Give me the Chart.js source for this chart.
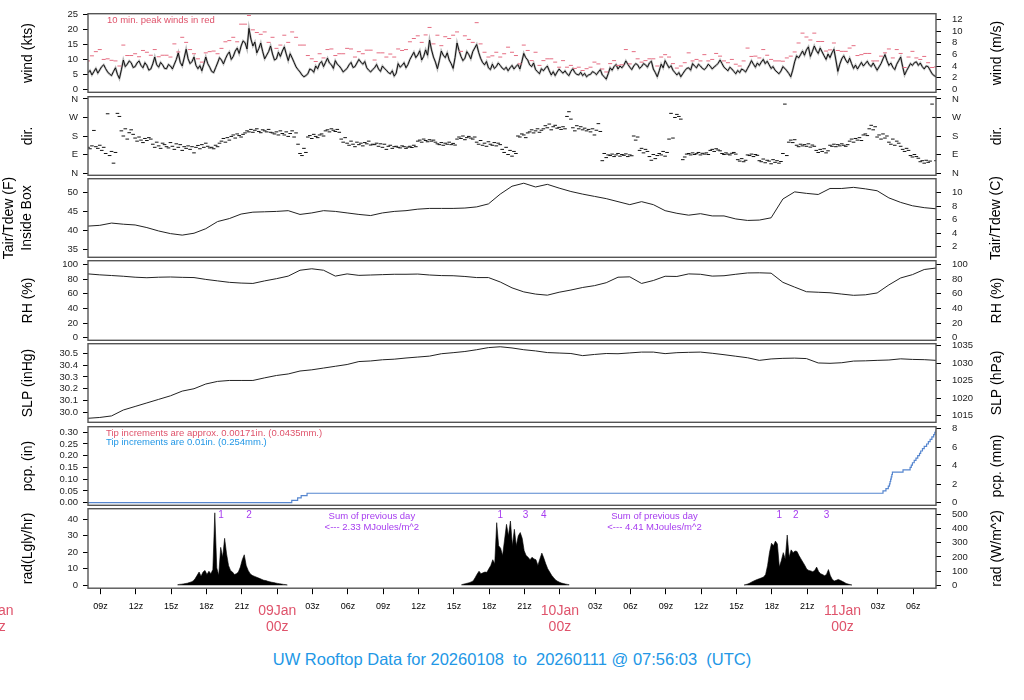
<!DOCTYPE html>
<html>
<head>
<meta charset="utf-8">
<title>UW Rooftop Data</title>
<script src="https://cdn.jsdelivr.net/npm/chart.js@4.4.1/dist/chart.umd.min.js"></script>
<style>
  body { margin: 0; background: #fff; width: 1024px; height: 700px; overflow: hidden; position: relative;
         font-family: "Liberation Sans", Arial, Helvetica, sans-serif; }
  canvas { position: absolute; left: 0; }
  #title { position: absolute; left: 0; width: 1024px; top: 650px; line-height: 19px; text-align: center;
           color: #2297E6; font-size: 16.5px; white-space: pre; }
</style>
</head>
<body>
<div id="title">UW Rooftop Data for 20260108  to  20260111 @ 07:56:03  (UTC)</div>
<script>
// time axis: hours since 2026-01-08 07:56:03 UTC, 72 h shown
var START_HOUR = 7 + 56 / 60 + 3 / 3600;
var SPAN_HOURS = 72;
var xTickLabels = ['09z','12z','15z','18z','21z','','03z','06z','09z','12z','15z','18z','21z','',
                   '03z','06z','09z','12z','15z','18z','21z','','03z','06z'];
var dateLabels = ['08Jan', '09Jan', '10Jan', '11Jan'];

// wind speed (kts) every 10 min
var windStepMin = 10;
var windKts = [
  5.5,6.3,4.8,5.9,7,5.4,6.5,7.6,8.2,6.9,5.8,5.1,4.6,6.0,7.2,5.0,3.6,6.5,9.8,7.6,
  8.4,9.5,8.9,7.3,7.6,8.8,9.5,8.0,7.2,8.9,8,6.4,6.8,8.5,10.8,8.2,7.4,9.0,8.2,7.0,
  6.9,8.3,7.8,6.8,8.4,10.0,12.2,9.0,7.8,10.5,13.4,10.2,8.6,9.3,10.8,8.0,6.9,7.9,6.2,8.4,
  10.8,8.6,7.4,6.0,5.6,7.2,8.8,10.6,9.8,8.5,10.2,11.6,12.5,10.0,11,12.8,13.8,12.0,14.5,16.2,
  15.6,13.5,20.4,16.8,14.5,15.8,12.2,13.6,15.5,12.6,10.2,11.4,12.6,14.5,11.8,9.8,10.2,12.4,11,12.8,
  14.2,11.8,9.6,11.9,10.5,9.0,7.5,6.6,5.8,4.8,4.2,4.6,5.2,6.8,6.5,5.7,7.8,6.9,8.6,9.3,
  7.6,9.0,10.4,8.8,8.2,7.0,9.6,8.4,7.8,6.9,5.8,6.4,7,8.2,9,7.3,7.6,8.8,10,9.1,
  8.4,9.3,7.2,6.4,5.8,6.6,7.2,8.3,6.8,6.0,7.8,7.0,6.4,5.6,5.2,6.2,4.4,5.4,8.6,7.4,
  8,8.9,7.2,8.3,10,11.2,12.4,10.6,11.5,12.9,9.8,11.0,13.2,11.4,16.5,13.2,10.8,9.1,6.9,9.6,
  12.8,11.4,10.6,12.2,9.8,8.6,7,10.6,15.5,13.0,11,9.6,10.4,12.6,11.6,10.2,12.6,13.8,15,12.4,
  10.4,9.0,8.2,9.3,7.2,6.6,8.4,7.0,7.6,8.8,8,7.1,6.6,7.4,6.2,7.2,8,6.8,7.6,8.3,
  6.8,9.2,12,10.6,9.8,8.2,7.6,8.8,6.6,5.9,5.2,6.9,6.2,7.1,7.8,6.2,4.8,5.9,4.6,5.8,
  6.8,6.0,5.4,6.2,5.2,4.6,6,6.9,5.6,5.0,4.8,5.7,4.6,5.3,4.2,4.8,5,5.9,5.6,4.9,
  5.8,6.6,4.8,4.2,3.4,5.2,7.2,6.4,7.6,8.3,6.8,7.8,7.2,8.1,9.5,8.4,7.4,6.6,7.8,8.6,
  8.2,7.0,7.6,8.6,8.2,7.4,8.8,9.4,6.8,5.6,4.2,6.2,8.4,7.2,9.6,8.4,7.2,7.9,6.4,5.6,
  4.8,5.6,4.2,5.2,6.2,7.0,7.2,6.4,8.6,7.8,7.2,8.4,7.8,7.0,6.6,7.3,8.4,7.7,6.8,7.5,
  8,8.7,9.8,8.6,7.4,6.8,6.2,7.4,6.8,6.0,5.2,6.3,5.6,6.8,6.4,5.8,7,8.2,9.6,8.4,
  7.4,8.8,8,9.1,10,8.6,9.4,8.2,7,7.6,6.4,5.8,5.2,6.1,7.6,7.0,6.2,5.3,4.2,6.4,
  9.2,11.2,10.5,11.6,12.8,11.4,13.2,14.2,11,12.6,14.5,13.0,12,13.8,12.5,11.2,10,11.8,10.6,12.2,
  13.4,9.8,6,8.4,10.2,11.2,9.8,8.8,10.4,8.6,7,8.1,6.8,7.9,9,7.8,8.6,9.4,8.2,7.6,
  8.8,7.6,6.4,7.5,8.6,10.2,11.6,9.6,8,8.8,7.4,6.6,8.4,9.6,10.8,7.6,4.8,6.2,7.4,8.6,
  8,8.9,9.2,8.0,8.8,7.6,6.8,7.8,7.6,6.4,5.2,4.6,4.2
];

// 10 min peak winds (kts), one reading every 20 min
var peakStepMin = 20;
var peakKts = [
  9.5,11.2,12.6,13.3,10,10.2,9.7,9.5,7.8,14.8,
  11.3,11.3,11.9,10.9,13,12.4,11.4,13.3,10.9,11.4,
  11.4,10.8,15.2,12.5,17.4,15.7,13.3,11.9,10.2,9.1,
  12.2,12.6,12.8,11.9,13.7,15.9,16.3,17.4,15.9,21.8,
  21.8,24.7,19.9,19,18.4,19.2,15.7,17.4,13.7,14.8,
  18.1,15.7,19.2,17.4,14.8,14.8,11.3,10.2,9.3,11.9,
  10.5,13.3,13.5,11.3,11.9,11.9,13.7,13.5,10.8,12.6,
  11.9,13.1,13.1,9.8,12.2,12.2,10.8,11.8,10.8,13.5,
  13,13.3,15.9,17,17.9,15.7,18.2,20.7,15.2,18.1,
  14.6,17.6,17,18.1,19.2,12.7,17.9,16.7,15.7,22.3,
  15.2,12.4,10.8,11.2,12.4,10.8,11.9,14.1,12.4,11.3,
  8.5,14.8,13,9.6,12.4,8,9.6,10.2,10.2,9.1,
  7.4,9.6,7.4,8,7,7.4,6.3,6.9,7.4,9.1,
  8.5,6.8,5.8,8.6,9.6,8,8.2,13.3,8.5,12.6,
  10.2,9.1,9.6,10.2,10.2,7.8,10.8,11.6,10.8,8.6,
  7.1,7.8,8.9,12.2,9.5,10,9.5,11.6,9.5,10,
  12,11.1,9.5,8.9,10,8.4,7.8,9.5,13.8,11,
  11.1,10.5,13.3,11.4,10,9.5,9.5,9.4,10.5,11.1,
  12.5,15.5,18.8,17.5,16.5,18.8,16,16,12.8,13.2,
  15.5,13,12.7,12.7,13.8,14.6,11.3,11.6,12,12,
  9.5,9.5,11.1,12.2,13.5,10.5,13.3,12,7.3,10.8,
  12.7,10.5,10,11,8.9,7.3,7.5
];

// wind direction (deg) every 10 min
var dirStepMin = 10;
var dirDeg = [
  125,118,132,207,128,120,135,110,125,
  95,288,85,105,48,100,
  290,275,
  205,180,215,165,196,210,188,
  170,155,175,160,148,168,158,172,165,
  140,125,150,132,120,145,138,128,122,148,
  130,115,142,125,138,110,
  128,120,132,115,128,98,125,134,118,
  138,125,145,130,122,
  125,118,135,128,145,
  155,168,150,172,160,
  178,185,170,190,182,175,188,
  195,205,200,212,198,208,215,202,196,210,205,200,212,198,
  195,190,200,185,205,192,
  185,200,178,192,205,175,195,
  140,95,85,120,100,
  175,182,168,188,178,172,185,190,180,
  205,210,200,215,208,202,212,198,
  165,150,172,
  145,135,155,140,128,150,138,145,132,148,142,155,136,140,
  138,145,130,142,
  125,140,115,130,135,120,128,
  130,125,122,132,128,120,126,130,124,135,128,
  155,160,150,165,158,152,162,155,160,150,
  142,138,148,135,145,140,150,138,144,136,
  165,175,168,180,162,172,178,170,165,175,
  150,140,158,135,145,130,152,
  140,135,148,132,145,138,
  115,100,125,90,110,82,105,95,
  180,175,190,185,172,195,
  200,210,195,205,215,198,208,
  215,230,220,238,210,225,232,
  218,222,212,225,215,
  275,298,262,
  220,205,230,215,225,210,218,
  205,212,200,215,185,208,240,202,
  60,95,75,88,
  85,92,80,88,95,82,90,86,93,80,88,84,
  180,160,175,
  110,120,98,115,105,
  80,62,90,70,85,
  95,88,105,82,100,
  165,290,170,270,
  285,275,262,
  65,78,
  92,95,88,98,90,94,100,88,96,92,98,90,
  110,115,105,118,112,108,
  95,90,98,92,88,96,100,92,
  65,58,70,55,62,
  88,85,92,80,90,86,
  60,55,68,50,62,58,45,65,52,60,48,56,
  95,335,85,
  150,160,148,162,
  135,128,140,132,138,130,142,126,136,130,
  110,100,115,105,118,98,108,
  135,130,140,128,138,132,142,135,130,138,
  155,165,150,168,160,172,158,
  185,190,182,
  215,232,210,225,
  175,185,165,190,170,180,
  150,140,165,135,155,145,130,
  115,105,120,110,
  85,78,90,80,72,
  55,60,48,62,52,58,
  335,270,60
];
var dirTickLabels = ['N', 'E', 'S', 'W', 'N'];

// hourly values
var hourlyStepMin = 60;
var tairF = [
  41.1,41.3,41.9,41.6,41.4,40.7,39.8,39.1,38.7,39.2,
  40.4,42.3,43.1,44.3,44.8,44.9,45.0,45.2,44.2,44.6,
  45.2,45.0,44.6,44.2,43.9,44.6,45.0,45.2,45.6,45.8,
  45.8,45.8,45.9,46.2,47.0,49.6,51.7,52.5,51.5,52.2,
  51.2,50.3,49.6,49.0,48.4,47.6,46.8,47.6,46.8,45.2,
  44.5,44.0,44.4,43.8,43.8,43.0,42.6,42.7,43.3,48.3,
  50.2,49.8,49.5,51.1,51.1,51.4,51.0,50.5,48.6,47.4,
  46.5,46.0,45.7
];
var rhPct = [
  87,85.7,84.8,83.8,82.5,81.8,82.5,82.8,82.3,82,
  79.5,77.5,75.5,74.5,74,77.5,80.5,84,92,94,
  92,84,87,85,85.5,86,86.5,86.5,86.8,85.5,
  84.7,84.5,83.5,82,82,76,68,62.5,59.5,58,
  62,65,68.5,71,75,82.5,83,74,78,83.8,
  83.5,87,86.5,84,84.5,86.5,88.3,88.5,88,75.5,
  69,62.7,62,61.3,59.5,57.8,58.5,61,72,81.5,
  86,93,95
];
var slpInHg = [
  29.95,29.957,29.97,30.02,30.05,30.08,30.11,30.14,30.18,30.2,
  30.24,30.262,30.27,30.27,30.27,30.292,30.312,30.325,30.35,30.36,
  30.375,30.39,30.405,30.43,30.435,30.445,30.45,30.46,30.468,30.476,
  30.496,30.505,30.515,30.53,30.548,30.555,30.545,30.53,30.52,30.506,
  30.502,30.498,30.48,30.49,30.498,30.496,30.503,30.51,30.51,30.497,
  30.505,30.508,30.51,30.5,30.488,30.475,30.462,30.44,30.452,30.457,
  30.459,30.455,30.418,30.415,30.42,30.434,30.436,30.44,30.443,30.453,
  30.448,30.446,30.44
];

// accumulated precipitation, bucket tips (hour, inches)
var pcpHours = [0,17.3,17.8,18.1,18.6,67.5,67.75,67.95,68.05,68.1,68.15,68.2,68.25,68.3,69.2,69.8,
                69.9,70.0,70.15,70.3,70.45,70.6,70.7,70.85,71.0,71.2,71.35,71.5,71.65,71.8,71.9,72.0];
var pcpInches = [0,0.01,0.02,0.03,0.04,0.05,0.06,0.07,0.08,0.09,0.10,0.11,0.12,0.13,0.14,0.15,
                 0.16,0.17,0.18,0.19,0.20,0.21,0.22,0.23,0.24,0.25,0.26,0.27,0.28,0.29,0.30,0.31];

// solar radiation (Langley/hr) every 10 min, one array per day
var radStepMin = 10;
var radDayStart = [7.6, 31.7, 55.7];
var radDay1 = [0.3,0.5,0.6,0.8,1.0,1.2,1.6,2.0,2.6,4,6,8,5.5,8,9,6.5,8.5,7,9.5,44,10.5,6,23,17,28.5,19,12,9,8,
               6.5,7,8,11,15.5,18.5,12,9,7,6,5.5,5,4.5,4,3.5,3,2.8,2.4,2.1,1.8,1.6,1.3,1.1,0.9,0.7,0.5,0.4,0.2];
var radDay2 = [0.3,0.6,0.9,1.2,1.5,2,2.6,4.5,6.7,8.5,7,7.5,8,7.8,10,12,15.5,13,38,24,22.5,18,27.5,37,30,39,24,34,
               24,30,32,28.5,21,18,17,15.5,17,16,15.5,12,16,19.5,16.5,13,10,8,6,4.6,3.2,2.4,1.8,1.3,1,0.7,0.5,0.3];
var radDay3 = [0.2,0.4,0.8,1.3,2,2.6,3.1,3.6,4,4.5,5,6.5,12,20,25.5,24,26.8,25,11,15,19.8,16,30.5,17,21.5,19.8,
               20.8,20.5,18,16,14,12,9.7,9,8.7,8.2,9,11,8.3,7,6.5,5.8,6.5,9.5,5.7,3.5,2.6,3,3.5,3,2.4,1.8,1.1,0.7,0.4,0.2];
var radMarkHours = [11.3, 13.67, 35, 37.15, 38.7, 58.7, 60.1, 62.7];
var radMarkLabels = ['1', '2', '1', '3', '4', '1', '2', '3'];
var radSumHours = [24.1, 48.1];
var radSumLabels = ['2.33', '4.41'];

var FONT = '"Liberation Sans", Arial, Helvetica, sans-serif';
var RED = '#DF536B', BLUE = '#2297E6', PURPLE = '#A63BEF';
Chart.defaults.font.family = FONT;
Chart.defaults.color = '#000';

var PAD = 14;
var FIRST_TICK = 9 - START_HOUR;

function pts(values, startH, stepMin) {
  return values.map(function (v, i) { return { x: startH + i * stepMin / 60, y: v }; });
}

function rotText(ctx, text, x, y) {
  ctx.save();
  ctx.translate(x, y);
  ctx.rotate(-Math.PI / 2);
  ctx.fillText(text, 0, 0);
  ctx.restore();
}

function xScale(show) {
  var s = {
    type: 'linear', min: 0, max: SPAN_HOURS, display: show,
    grid: { drawOnChartArea: false, drawTicks: true, tickLength: 6, color: '#000' },
    border: { display: false },
    ticks: {
      autoSkip: false, maxRotation: 0, minRotation: 0, padding: 7, color: '#000', font: { size: 9 },
      callback: function (v, i) { return xTickLabels[i]; }
    }
  };
  if (show) {
    s.afterBuildTicks = function (sc) {
      sc.ticks = xTickLabels.map(function (l, k) { return { value: FIRST_TICK + 3 * k }; });
    };
  }
  return s;
}

function yScale(pos, min, max, tickVals, fmt) {
  return {
    type: 'linear', position: pos, min: min, max: max,
    afterBuildTicks: function (s) { s.ticks = tickVals.map(function (v) { return { value: v }; }); },
    afterFit: function (s) { s.width = 88; },
    grid: { drawOnChartArea: false, drawTicks: true, tickLength: 5, color: '#000' },
    border: { display: false },
    ticks: {
      autoSkip: false, padding: pos === 'left' ? 5 : 11, color: '#222', font: { size: 9.5 },
      callback: function (v, i) { return fmt ? fmt(v, i) : String(v); }
    }
  };
}

function makePanel(top, bottom, opts) {
  var c = document.createElement('canvas');
  var below = opts.bottomAxis ? 60 : PAD;
  var panelH = bottom - top;
  c.width = 1024;
  c.height = panelH + PAD + below;
  document.body.appendChild(c);

  var deco = {
    id: 'panelDeco',
    afterDraw: function (chart) {
      var ctx = chart.ctx, a = chart.chartArea;
      var mid = (a.top + a.bottom) / 2;
      ctx.save();
      ctx.strokeStyle = '#555';
      ctx.lineWidth = 1.4;
      ctx.strokeRect(a.left, a.top, a.right - a.left, a.bottom - a.top);
      ctx.fillStyle = '#000';
      ctx.font = '14px ' + FONT;
      ctx.textAlign = 'center';
      ctx.textBaseline = 'middle';
      opts.left.forEach(function (t) { rotText(ctx, t[0], t[1], mid); });
      opts.right.forEach(function (t) { rotText(ctx, t[0], t[1], mid); });
      if (opts.extra) opts.extra(chart, ctx, a);
      ctx.restore();
    }
  };

  function config() {
    return {
      type: 'line',
      data: { datasets: opts.datasets },
      options: {
        responsive: false, animation: false, events: [],
        layout: { padding: { top: PAD, bottom: below, left: 0, right: 0 } },
        plugins: { legend: { display: false }, tooltip: { enabled: false } },
        elements: { point: { radius: 0, hoverRadius: 0 }, line: { tension: 0 } },
        scales: { x: xScale(!!opts.bottomAxis), y: opts.y, y2: opts.y2 }
      },
      plugins: [deco]
    };
  }

  // first pass: measure where the library puts the plot area, then size the canvas so
  // that the plot area lands exactly on the panel's box
  var chart = new Chart(c.getContext('2d'), config());
  var offTop = chart.chartArea.top;
  var offBottom = c.height - chart.chartArea.bottom;
  chart.destroy();
  c.height = offTop + panelH + offBottom;
  c.style.width = '1024px';
  c.style.height = c.height + 'px';
  c.style.top = (top - offTop) + 'px';
  return new Chart(c.getContext('2d'), config());
}

var KTS2MS = 0.514444, IN2HPA = 33.8639, IN2MM = 25.4, LY2W = 11.63;
var fC = function (f) { return (f - 32) * 5 / 9; };

// wind
var wMin = -1, wMax = 25.3;
makePanel(14, 93, {
  left: [['wind (kts)', 28]], right: [['wind (m/s)', 997]],
  y: yScale('left', wMin, wMax, [0, 5, 10, 15, 20, 25]),
  y2: yScale('right', wMin * KTS2MS, wMax * KTS2MS, [0, 2, 4, 6, 8, 10, 12]),
  datasets: [
    { data: pts(peakKts, 0, peakStepMin), showLine: false, pointStyle: 'line', pointRadius: 2,
      pointBorderWidth: 1, borderColor: '#E56D82', yAxisID: 'y', order: 0 },
    { data: pts(windKts, 0, windStepMin), borderColor: '#000', borderWidth: 0.9, yAxisID: 'y', order: 1 },
    { data: pts(windKts, 0, windStepMin), borderColor: 'rgba(0,0,0,0.28)', borderWidth: 2.2, yAxisID: 'y', order: 2 }
  ],
  extra: function (chart, ctx, a) {
    ctx.font = '9.5px ' + FONT;
    ctx.fillStyle = RED;
    ctx.textAlign = 'left';
    ctx.fillText('10 min. peak winds in red', a.left + 19, a.top + 7);
  }
});

// direction
var dMin = -11, dMax = 371;
var dirFmt = function (v) { return dirTickLabels[Math.round(v / 90)]; };
makePanel(97, 176, {
  left: [['dir.', 28]], right: [['dir.', 997]],
  y: yScale('left', dMin, dMax, [0, 90, 180, 270, 360], dirFmt),
  y2: yScale('right', dMin, dMax, [0, 90, 180, 270, 360], dirFmt),
  datasets: [
    { data: pts(dirDeg, 0, dirStepMin), showLine: false, pointStyle: 'line', pointRadius: 1.8,
      pointBorderWidth: 1, borderColor: '#111', yAxisID: 'y' }
  ]
});

// temperature
var tMin = 32.8, tMax = 53.7;
makePanel(179, 258, {
  left: [['Tair/Tdew (F)', 9], ['Inside Box', 27]], right: [['Tair/Tdew (C)', 996]],
  y: yScale('left', tMin, tMax, [35, 40, 45, 50]),
  y2: yScale('right', fC(tMin), fC(tMax), [2, 4, 6, 8, 10]),
  datasets: [
    { data: pts(tairF, 0, hourlyStepMin), borderColor: '#222', borderWidth: 1, yAxisID: 'y' }
  ]
});

// relative humidity
var rMin = -3.5, rMax = 105;
makePanel(261, 341, {
  left: [['RH (%)', 28]], right: [['RH (%)', 997]],
  y: yScale('left', rMin, rMax, [0, 20, 40, 60, 80, 100]),
  y2: yScale('right', rMin, rMax, [0, 20, 40, 60, 80, 100]),
  datasets: [
    { data: pts(rhPct, 0, hourlyStepMin), borderColor: '#222', borderWidth: 1, yAxisID: 'y' }
  ]
});

// sea level pressure
var sMin = 29.916, sMax = 30.581;
makePanel(344, 423, {
  left: [['SLP (inHg)', 28]], right: [['SLP (hPa)', 997]],
  y: yScale('left', sMin, sMax, [30.0, 30.1, 30.2, 30.3, 30.4, 30.5], function (v) { return v.toFixed(1); }),
  y2: yScale('right', sMin * IN2HPA, sMax * IN2HPA, [1015, 1020, 1025, 1030, 1035]),
  datasets: [
    { data: pts(slpInHg, 0, hourlyStepMin), borderColor: '#222', borderWidth: 1, yAxisID: 'y' }
  ]
});

// precipitation
var pMin = -0.0114, pMax = 0.3237;
makePanel(427, 506, {
  left: [['pcp. (in)', 28]], right: [['pcp. (mm)', 997]],
  y: yScale('left', pMin, pMax, [0, 0.05, 0.10, 0.15, 0.20, 0.25, 0.30], function (v) { return v.toFixed(2); }),
  y2: yScale('right', pMin * IN2MM, pMax * IN2MM, [0, 2, 4, 6, 8]),
  datasets: [
    { data: pcpHours.map(function (h, i) { return { x: h, y: pcpInches[i] }; }),
      stepped: true, borderColor: '#5686CF', borderWidth: 1.2, yAxisID: 'y' }
  ],
  extra: function (chart, ctx, a) {
    ctx.font = '9.5px ' + FONT;
    ctx.textAlign = 'left';
    ctx.fillStyle = RED;
    ctx.fillText('Tip increments are approx. 0.00171in. (0.0435mm.)', a.left + 18, a.top + 7);
    ctx.fillStyle = BLUE;
    ctx.fillText('Tip increments are 0.01in. (0.254mm.)', a.left + 18, a.top + 16);
  }
});

// solar radiation + time axis
var radMin = -1.82, radMax = 46.5;
var radDays = [radDay1, radDay2, radDay3];
makePanel(509, 589, {
  bottomAxis: true,
  left: [['rad(Lgly/hr)', 28]], right: [['rad (W/m^2)', 997]],
  y: yScale('left', radMin, radMax, [0, 10, 20, 30, 40]),
  y2: yScale('right', radMin * LY2W, radMax * LY2W, [0, 100, 200, 300, 400, 500]),
  datasets: radDays.map(function (d, k) {
    return { data: pts(d, radDayStart[k], radStepMin), borderColor: '#000', borderWidth: 0.6,
             backgroundColor: '#000', fill: 'origin', yAxisID: 'y' };
  }),
  extra: function (chart, ctx, a) {
    var xs = chart.scales.x;
    ctx.font = '10px ' + FONT;
    ctx.fillStyle = PURPLE;
    ctx.textAlign = 'center';
    radMarkHours.forEach(function (h, i) {
      ctx.fillText(radMarkLabels[i], xs.getPixelForValue(h), a.top + 6.5);
    });
    ctx.font = '9.5px ' + FONT;
    radSumHours.forEach(function (h, i) {
      var x = xs.getPixelForValue(h);
      ctx.fillText('Sum of previous day', x, a.top + 7.5);
      ctx.fillText('<--- ' + radSumLabels[i] + ' MJoules/m^2', x, a.top + 19);
    });
    ctx.font = '14px ' + FONT;
    ctx.fillStyle = RED;
    dateLabels.forEach(function (d, k) {
      var x = xs.getPixelForValue(24 * k - START_HOUR);
      ctx.fillText(d, x, a.bottom + 23);
      ctx.fillText('00z', x, a.bottom + 39);
    });
  }
});
</script>
</body>
</html>
